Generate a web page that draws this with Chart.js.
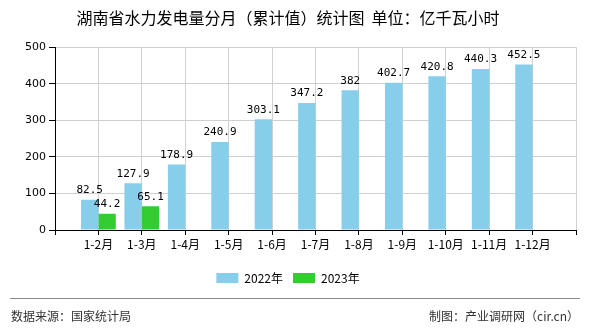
<!DOCTYPE html>
<html>
<head>
<meta charset="utf-8">
<script src="https://cdn.jsdelivr.net/npm/chart.js@4/dist/chart.umd.min.js"></script>
<style>
  html, body { margin: 0; padding: 0; background: #fff; }
  #wrap { width: 590px; height: 330px; position: relative; }
</style>
</head>
<body>
<div id="wrap"><canvas id="c"></canvas></div>
<script>
// months (cumulative), first and last slots are empty spacers
const months = ['', '1-2月', '1-3月', '1-4月', '1-5月', '1-6月', '1-7月', '1-8月', '1-9月', '1-10月', '1-11月', '1-12月', ''];
const values2022 = [null, 82.5, 127.9, 178.9, 240.9, 303.1, 347.2, 382, 402.7, 420.8, 440.3, 452.5, null];
const values2023 = [null, 44.2, 65.1, null, null, null, null, null, null, null, null, null, null];
const yTicks = [0, 100, 200, 300, 400, 500];

const CJK = "'Noto Sans CJK SC', 'DejaVu Sans', sans-serif";

// numbers above each bar
const valueLabels = {
  id: 'valueLabels',
  afterDatasetsDraw(chart) {
    const ctx = chart.ctx;
    ctx.save();
    ctx.font = "11px 'DejaVu Sans Mono', monospace";
    ctx.fillStyle = '#000';
    ctx.textAlign = 'center';
    ctx.textBaseline = 'bottom';
    chart.data.datasets.forEach((ds, i) => {
      chart.getDatasetMeta(i).data.forEach((bar, j) => {
        const v = ds.data[j];
        if (v == null) return;
        ctx.fillText(String(v), bar.x, bar.y - 4);
      });
    });
    ctx.restore();
  }
};

// source line at the bottom
const footer = {
  id: 'footer',
  afterDraw(chart) {
    const ctx = chart.ctx;
    ctx.save();
    ctx.strokeStyle = '#8a8a8a';
    ctx.lineWidth = 1;
    ctx.beginPath();
    ctx.moveTo(10, 298.5);
    ctx.lineTo(580, 298.5);
    ctx.stroke();
    ctx.font = '12px ' + CJK;
    ctx.fillStyle = '#333';
    ctx.textBaseline = 'middle';
    ctx.textAlign = 'left';
    ctx.fillText('数据来源：国家统计局', 11, 316);
    ctx.textAlign = 'right';
    ctx.fillText('制图：产业调研网（cir.cn）', 579, 316);
    ctx.restore();
  }
};

new Chart(document.getElementById('c'), {
  type: 'bar',
  data: {
    labels: months,
    datasets: [
      { label: '2022年', data: values2022, backgroundColor: '#87CEEB', borderWidth: 0 },
      { label: '2023年', data: values2023, backgroundColor: '#33CC33', borderWidth: 0 }
    ]
  },
  options: {
    responsive: true,
    maintainAspectRatio: false,
    animation: false,
    datasets: { bar: { categoryPercentage: 0.8, barPercentage: 1.0 } },
    layout: { padding: { left: 0, right: 14, top: 0, bottom: 36 } },
    scales: {
      x: {
        offset: false,
        grid: { offset: false, color: '#d0d0d0', tickColor: '#000', tickLength: 5 },
        border: { color: '#000' },
        ticks: { color: '#000', font: { size: 12, family: CJK }, padding: 2, maxRotation: 0, autoSkip: false },
        afterFit(scale) { scale.height = 32; }
      },
      y: {
        min: 0,
        max: 500,
        afterBuildTicks(scale) { scale.ticks = yTicks.map(v => ({ value: v })); },
        grid: { color: '#d0d0d0', tickColor: '#000', tickLength: 6 },
        border: { color: '#000' },
        ticks: { color: '#000', font: { size: 11, family: "'DejaVu Sans', sans-serif" }, padding: 3 },
        afterFit(scale) { scale.width = 55; }
      }
    },
    plugins: {
      title: {
        display: true,
        text: '湖南省水力发电量分月（累计值）统计图  单位：亿千瓦小时',
        color: '#000',
        font: { size: 16, family: CJK, weight: 'normal' },
        padding: { top: 8, bottom: 20 }
      },
      legend: {
        position: 'bottom',
        labels: {
          color: '#000',
          font: { size: 12, family: CJK },
          boxWidth: 22,
          boxHeight: 10,
          padding: 10
        }
      },
      tooltip: { enabled: false }
    }
  },
  plugins: [valueLabels, footer]
});
</script>
</body>
</html>
